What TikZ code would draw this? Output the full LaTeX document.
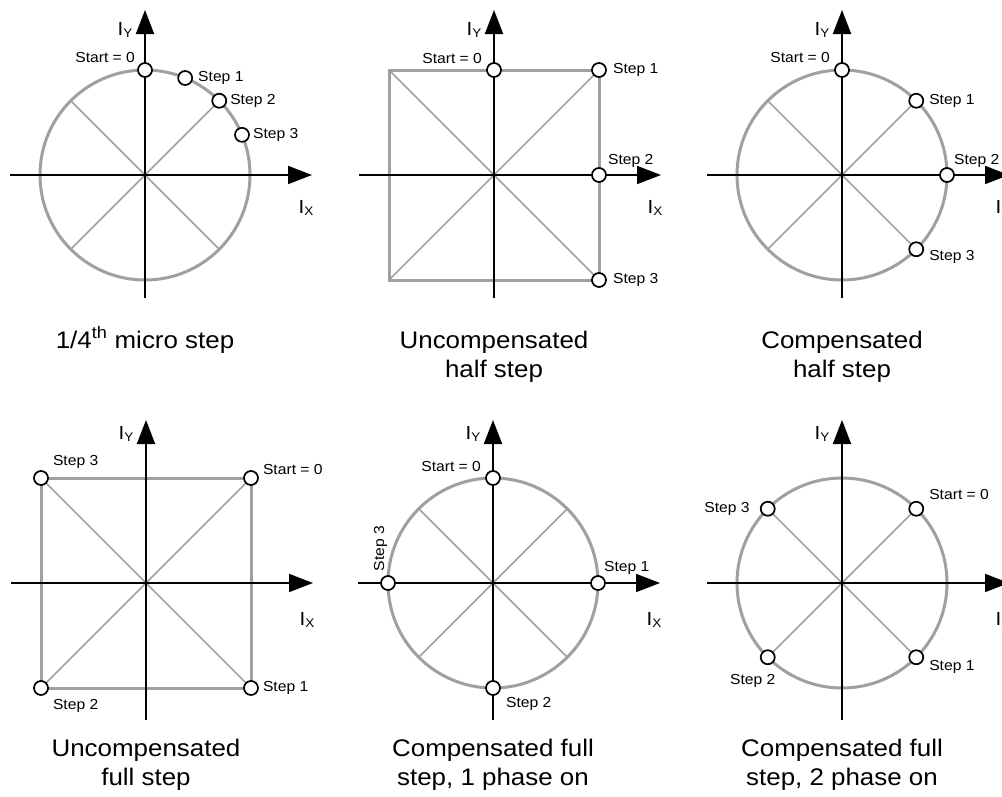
\documentclass[tikz,border=0pt]{standalone}
\usepackage{fontspec}
\setmainfont{Liberation Sans}[FakeStretch=1.08]
\usepackage{tikz}
\usetikzlibrary{arrows.meta,positioning}
\definecolor{smgrey}{HTML}{A0A0A0}
\definecolor{smink}{HTML}{000000}
\tikzset{
  ax/.style={-{Triangle[length=24pt,width=18pt]},line width=1.9pt,color=smink},
  rim/.style={draw=smgrey,line width=3pt},
  spoke/.style={draw=smgrey,line width=1.5pt},
  posmark/.style={circle,draw=smink,fill=white,line width=1.7pt,minimum size=14pt,inner sep=0pt},
  lbl/.style={font=\fontsize{14.5}{16}\selectfont,inner sep=1pt},
  captext/.style={font=\fontsize{24}{29}\selectfont,align=center,anchor=base,inner sep=1pt},
  axlbl/.style={font=\fontsize{19}{19}\selectfont,inner sep=0pt,anchor=base},
}
\newcommand{\cur}[1]{I\raisebox{-2pt}{\fontsize{12.5}{12.5}\selectfont #1}}

\begin{document}
\begin{tikzpicture}[x=1pt,y=1pt]
\fill[white] (0,0) rectangle (1002,-796);
\useasboundingbox (0,0) rectangle (1002,-796);

% 1/4th micro step
\begin{scope}[shift={(145,-175)}]
  \coordinate (p1o) at (0,0);
  \coordinate (p1w) at (-135,0); \coordinate (p1e) at (167,0);
  \coordinate (p1s) at (0,-123); \coordinate (p1n) at (0,165);
  \draw[rim] (p1o) circle[radius=105];
  \foreach \a in {45,135,225,315} \draw[spoke] (p1o) -- (\a:105);
  \draw[ax] (p1w) -- (p1e);
  \draw[ax] (p1s) -- (p1n);
  \node[axlbl] (p1y) at (-20,140) {\cur{Y}};
  \node[axlbl] (p1x) at (161,-38) {\cur{X}};
  \node[posmark] (p1m0) at (90:105) {};
  \node[posmark] (p1m1) at (67.5:105) {};
  \node[posmark] (p1m2) at (45:105) {};
  \node[posmark] (p1m3) at (22.5:105) {};
  \node[lbl,left=1pt of p1m0,yshift=12pt] (p1t0) {Start = 0};
  \node[lbl,right=4pt of p1m1] (p1t1) {Step 1};
  \node[lbl,right=2pt of p1m2] (p1t2) {Step 2};
  \node[lbl,right=2pt of p1m3] (p1t3) {Step 3};
  \node[captext] (p1c) at (0,-173) {1/4\textsuperscript{th} micro step};
\end{scope}

% uncompensated half step
\begin{scope}[shift={(494,-175)}]
  \coordinate (p2o) at (0,0);
  \coordinate (p2w) at (-135,0); \coordinate (p2e) at (167,0);
  \coordinate (p2s) at (0,-123); \coordinate (p2n) at (0,165);
  \draw[rim] (-105,-105) rectangle (105,105);
  \draw[spoke] (-105,-105) -- (105,105) (-105,105) -- (105,-105);
  \draw[ax] (p2w) -- (p2e);
  \draw[ax] (p2s) -- (p2n);
  \node[axlbl] (p2y) at (-20,140) {\cur{Y}};
  \node[axlbl] (p2x) at (161,-38) {\cur{X}};
  \node[posmark] (p2m0) at (0,105) {};
  \node[posmark] (p2m1) at (105,105) {};
  \node[posmark] (p2m2) at (105,0) {};
  \node[posmark] (p2m3) at (105,-105) {};
  \node[lbl,left=3pt of p2m0,yshift=11pt] (p2t0) {Start = 0};
  \node[lbl,right=5pt of p2m1] (p2t1) {Step 1};
  \node[lbl,right=0pt of p2m2,yshift=14pt] (p2t2) {Step 2};
  \node[lbl,right=5pt of p2m3] (p2t3) {Step 3};
  \node[captext] (p2c) at (0,-202) {Uncompensated\\half step};
\end{scope}

% compensated half step
\begin{scope}[shift={(842,-175)}]
  \coordinate (p3o) at (0,0);
  \coordinate (p3w) at (-135,0); \coordinate (p3e) at (167,0);
  \coordinate (p3s) at (0,-123); \coordinate (p3n) at (0,165);
  \draw[rim] (p3o) circle[radius=105];
  \foreach \a in {45,135,225,315} \draw[spoke] (p3o) -- (\a:105);
  \draw[ax] (p3w) -- (p3e);
  \draw[ax] (p3s) -- (p3n);
  \node[axlbl] (p3y) at (-20,140) {\cur{Y}};
  \node[axlbl] (p3x) at (161,-38) {\cur{X}};
  \node[posmark] (p3m0) at (90:105) {};
  \node[posmark] (p3m1) at (45:105) {};
  \node[posmark] (p3m2) at (0:105) {};
  \node[posmark] (p3m3) at (-45:105) {};
  \node[lbl,left=3pt of p3m0,yshift=12pt] (p3t0) {Start = 0};
  \node[lbl,right=4pt of p3m1] (p3t1) {Step 1};
  \node[lbl,right=-2pt of p3m2,yshift=14pt] (p3t2) {Step 2};
  \node[lbl,right=4pt of p3m3,yshift=-8pt] (p3t3) {Step 3};
  \node[captext] (p3c) at (0,-202) {Compensated\\half step};
\end{scope}

% uncompensated full step
\begin{scope}[shift={(146,-583)}]
  \coordinate (p4o) at (0,0);
  \coordinate (p4w) at (-135,0); \coordinate (p4e) at (167,0);
  \coordinate (p4s) at (0,-137); \coordinate (p4n) at (0,163);
  \draw[rim] (-105,-105) rectangle (105,105);
  \draw[spoke] (-105,-105) -- (105,105) (-105,105) -- (105,-105);
  \draw[ax] (p4w) -- (p4e);
  \draw[ax] (p4s) -- (p4n);
  \node[axlbl] (p4y) at (-20,144) {\cur{Y}};
  \node[axlbl] (p4x) at (161,-42) {\cur{X}};
  \node[posmark] (p4m0) at (105,105) {};
  \node[posmark] (p4m1) at (105,-105) {};
  \node[posmark] (p4m2) at (-105,-105) {};
  \node[posmark] (p4m3) at (-105,105) {};
  \node[lbl,right=3pt of p4m0,yshift=8pt] (p4t0) {Start = 0};
  \node[lbl,right=3pt of p4m1] (p4t1) {Step 1};
  \node[lbl,right=3pt of p4m2,yshift=-18pt] (p4t2) {Step 2};
  \node[lbl,right=3pt of p4m3,yshift=16pt] (p4t3) {Step 3};
  \node[captext] (p4c) at (0,-202) {Uncompensated\\full step};
\end{scope}

% compensated full step, 1 phase on
\begin{scope}[shift={(493,-583)}]
  \coordinate (p5o) at (0,0);
  \coordinate (p5w) at (-135,0); \coordinate (p5e) at (167,0);
  \coordinate (p5s) at (0,-137); \coordinate (p5n) at (0,163);
  \draw[rim] (p5o) circle[radius=105];
  \foreach \a in {45,135,225,315} \draw[spoke] (p5o) -- (\a:105);
  \draw[ax] (p5w) -- (p5e);
  \draw[ax] (p5s) -- (p5n);
  \node[axlbl] (p5y) at (-20,144) {\cur{Y}};
  \node[axlbl] (p5x) at (161,-42) {\cur{X}};
  \node[posmark] (p5m0) at (90:105) {};
  \node[posmark] (p5m1) at (0:105) {};
  \node[posmark] (p5m2) at (270:105) {};
  \node[posmark] (p5m3) at (180:105) {};
  \node[lbl,left=3pt of p5m0,yshift=12pt] (p5t0) {Start = 0};
  \node[lbl,right=-3pt of p5m1,yshift=15pt] (p5t1) {Step 1};
  \node[lbl,right=4pt of p5m2,yshift=-16pt] (p5t2) {Step 2};
  \node[lbl,above left=5pt and 2pt of p5m3,anchor=west,rotate=90] (p5t3) {Step 3};
  \node[captext] (p5c) at (0,-202) {Compensated full\\step, 1 phase on};
\end{scope}

% compensated full step, 2 phase on
\begin{scope}[shift={(842,-583)}]
  \coordinate (p6o) at (0,0);
  \coordinate (p6w) at (-135,0); \coordinate (p6e) at (167,0);
  \coordinate (p6s) at (0,-137); \coordinate (p6n) at (0,163);
  \draw[rim] (p6o) circle[radius=105];
  \foreach \a in {45,135,225,315} \draw[spoke] (p6o) -- (\a:105);
  \draw[ax] (p6w) -- (p6e);
  \draw[ax] (p6s) -- (p6n);
  \node[axlbl] (p6y) at (-20,144) {\cur{Y}};
  \node[axlbl] (p6x) at (161,-42) {\cur{X}};
  \node[posmark] (p6m0) at (45:105) {};
  \node[posmark] (p6m1) at (-45:105) {};
  \node[posmark] (p6m2) at (225:105) {};
  \node[posmark] (p6m3) at (135:105) {};
  \node[lbl,right=4pt of p6m0,yshift=14pt] (p6t0) {Start = 0};
  \node[lbl,right=4pt of p6m1,yshift=-10pt] (p6t1) {Step 1};
  \node[lbl,below=8pt of p6m2,xshift=-15pt] (p6t2) {Step 2};
  \node[lbl,left=9pt of p6m3] (p6t3) {Step 3};
  \node[captext] (p6c) at (0,-202) {Compensated full\\step, 2 phase on};
\end{scope}
\end{tikzpicture}
\end{document}
